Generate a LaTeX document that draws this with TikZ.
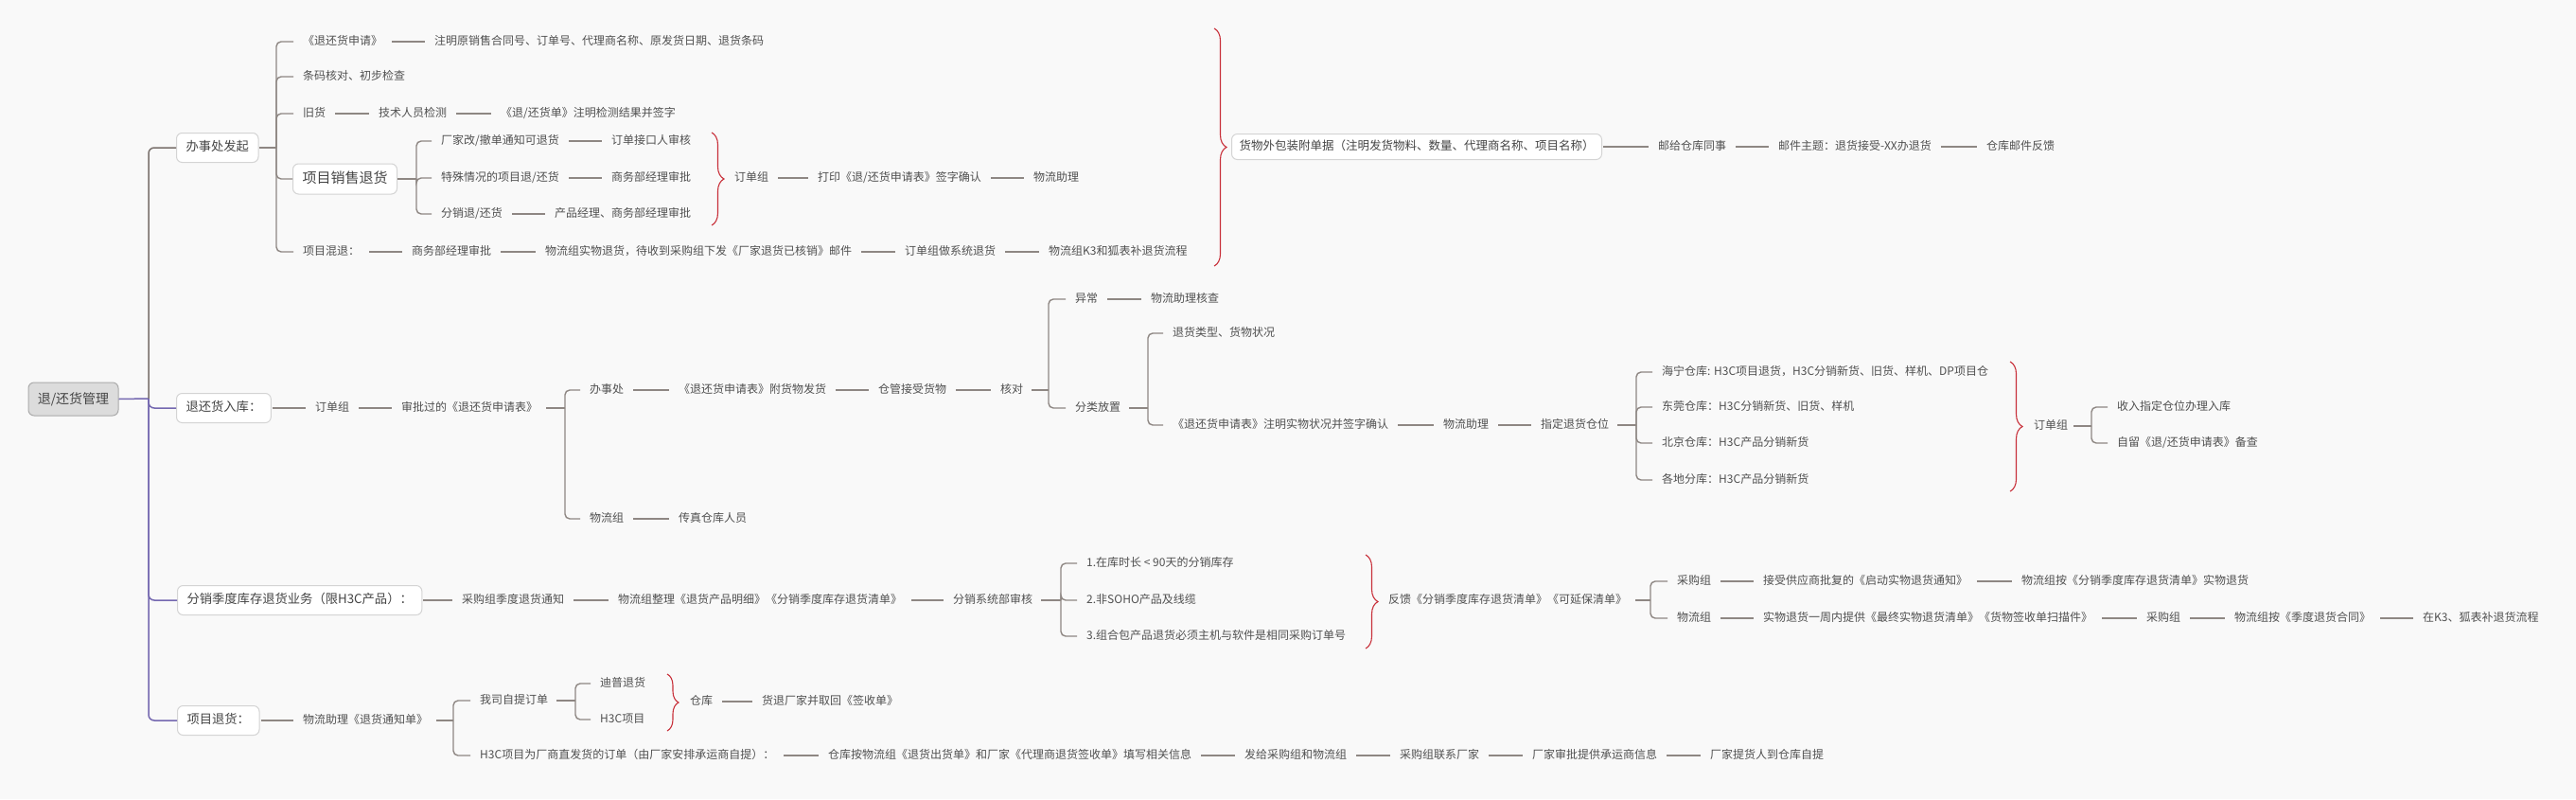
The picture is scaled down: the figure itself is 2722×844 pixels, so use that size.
\documentclass[tikz,border=0pt]{standalone}
\usepackage{fontspec}
\setmainfont{Noto Sans CJK SC}
\usetikzlibrary{decorations.pathreplacing}
\definecolor{bgc}{HTML}{F9F9F9}
\definecolor{txtc}{HTML}{505050}
\definecolor{lnc}{HTML}{8E8783}
\definecolor{trp}{HTML}{7468B0}
\definecolor{trg}{HTML}{7A716D}
\definecolor{redc}{HTML}{C8303A}
\definecolor{boxb}{HTML}{D4D4D4}
\definecolor{rootf}{HTML}{DCDCDC}
\definecolor{rootb}{HTML}{ABABAB}
\begin{document}
\begin{tikzpicture}[x=1pt,y=-1pt,
 tx/.style={anchor=west, inner sep=0pt, text=txtc, font=\fontsize{12}{14}\selectfont, text height=9.5pt, text depth=2.5pt},
 lv/.style={anchor=west, draw=boxb, fill=white, rounded corners=6pt, line width=1pt, minimum height=31pt, inner xsep=10pt, inner ysep=0pt, text=txtc!85!black, font=\fontsize{13.3}{15}\selectfont, text height=10.5pt, text depth=3pt},
 rootbox/.style={draw=rootb, fill=rootf, rounded corners=6pt, line width=1pt, minimum width=95pt, minimum height=35pt, inner sep=0pt, text=txtc!85!black, font=\fontsize{14}{16}\selectfont},
 conn/.style={draw=lnc, line width=1.4pt, shorten <=10pt, shorten >=10pt},
 bconn/.style={draw=lnc, line width=1.4pt, shorten <=1pt, shorten >=10pt},
 stem/.style={draw=lnc, line width=1.4pt},
 tstem/.style={draw=lnc, line width=1.4pt, shorten <=9pt},
 tree/.style={draw=lnc, line width=1.4pt, rounded corners=5pt},
 brc/.style={draw=redc, line width=1.1pt, decorate, decoration={brace, amplitude=13pt}},
]
\fill[bgc] (0,0) rectangle (2722,844);
\useasboundingbox (0,0) rectangle (2722,844);

% root and level 1
\node[rootbox] (root) at (77.5,421.5) {退/还货管理};
\node[lv] (A) at (186,156) {办事处发起};
\node[lv] (B) at (186,431) {退还货入库：};
\node[lv] (C) at (187,634) {分销季度库存退货业务（限H3C产品）：};
\node[lv] (D) at (187,761) {项目退货：};
\coordinate (T0) at (157,421);
\draw[line width=1.5pt, trp] (root.east) -- (T0);
\draw[line width=1.5pt, trg, rounded corners=6pt] (T0) |- (A.west);
\draw[line width=1.5pt, trp, rounded corners=6pt] (T0) |- (B.west);
\draw[line width=1.5pt, trp, rounded corners=6pt] (T0) |- (C.west);
\draw[line width=1.5pt, trp, rounded corners=6pt] (T0) |- (D.west);

% ---- A branch
\node[tx] (a1) at (320,44) {《退还货申请》};
\node[tx] (a1b) at (459,44) {注明原销售合同号、订单号、代理商名称、原发货日期、退货条码};
\node[tx] (a2) at (320,81) {条码核对、初步检查};
\node[tx] (a3) at (320,120) {旧货};
\node[tx] (a3b) at (400,120) {技术人员检测};
\node[tx] (a3c) at (529,120) {《退/还货单》注明检测结果并签字};
\node[lv, font=\fontsize{15}{17}\selectfont, minimum height=32pt, text height=11.5pt] (a4) at (309,189) {项目销售退货};
\node[tx] (a5) at (320,266) {项目混退：};
\node[tx] (a5b) at (435,266) {商务部经理审批};
\node[tx] (a5c) at (576,266) {物流组实物退货，待收到采购组下发《厂家退货已核销》邮件};
\node[tx] (a5d) at (956,266) {订单组做系统退货};
\node[tx] (a5e) at (1108,266) {物流组K3和狐表补退货流程};
\coordinate (TA) at (292,156);
\draw[stem] (A.east) -- (TA);
\draw[tree] (TA) |- ([xshift=-10pt]a1.west);
\draw[tree] (TA) |- ([xshift=-10pt]a2.west);
\draw[tree] (TA) |- ([xshift=-10pt]a3.west);
\draw[tree] (TA) |- (a4.west);
\draw[tree] (TA) |- ([xshift=-10pt]a5.west);
\draw[conn] (a1.east) -- (a1b.west);
\draw[conn] (a3.east) -- (a3b.west);
\draw[conn] (a3b.east) -- (a3c.west);
\draw[conn] (a5.east) -- (a5b.west);
\draw[conn] (a5b.east) -- (a5c.west);
\draw[conn] (a5c.east) -- (a5d.west);
\draw[conn] (a5d.east) -- (a5e.west);

\node[tx] (b1) at (466,149) {厂家改/撤单通知可退货};
\node[tx] (b1b) at (646,149) {订单接口人审核};
\node[tx] (b2) at (466,188) {特殊情况的项目退/还货};
\node[tx] (b2b) at (646,188) {商务部经理审批};
\node[tx] (b3) at (466,226) {分销退/还货};
\node[tx] (b3b) at (586,226) {产品经理、商务部经理审批};
\coordinate (TB) at (440,189);
\draw[stem] (a4.east) -- (TB);
\draw[tree] (TB) |- ([xshift=-10pt]b1.west);
\draw[tree] (TB) |- ([xshift=-10pt]b2.west);
\draw[tree] (TB) |- ([xshift=-10pt]b3.west);
\draw[conn] (b1.east) -- (b1b.west);
\draw[conn] (b2.east) -- (b2b.west);
\draw[conn] (b3.east) -- (b3b.west);
\draw[brc] (752,140) -- (752,238);
\node[tx] (b4) at (776,188) {订单组};
\node[tx] (b5) at (864,188) {打印《退/还货申请表》签字确认};
\node[tx] (b6) at (1092,188) {物流助理};
\draw[conn] (b4.east) -- (b5.west);
\draw[conn] (b5.east) -- (b6.west);

\draw[brc] (1283,30) -- (1283,281);
\node[lv, font=\fontsize{12.5}{14}\selectfont, minimum height=27pt, inner xsep=8pt, text height=10pt] (c1) at (1301,155) {货物外包装附单据（注明发货物料、数量、代理商名称、项目名称）};
\node[tx] (c2) at (1752,155) {邮给仓库同事};
\node[tx] (c3) at (1879,155) {邮件主题：退货接受-XX办退货};
\node[tx] (c4) at (2099,155) {仓库邮件反馈};
\draw[bconn] (c1.east) -- (c2.west);
\draw[conn] (c2.east) -- (c3.west);
\draw[conn] (c3.east) -- (c4.west);

% ---- B branch
\node[tx] (d1) at (333,431) {订单组};
\node[tx] (d2) at (424,431) {审批过的《退还货申请表》};
\draw[bconn] (B.east) -- (d1.west);
\draw[conn] (d1.east) -- (d2.west);
\coordinate (TD) at (597,431);
\draw[tstem] (d2.east) -- (TD);
\node[tx] (d3) at (623,412) {办事处};
\node[tx] (d4) at (717,412) {《退还货申请表》附货物发货};
\node[tx] (d5) at (928,412) {仓管接受货物};
\node[tx] (d6) at (1057,412) {核对};
\node[tx] (d7) at (623,548) {物流组};
\node[tx] (d8) at (717,548) {传真仓库人员};
\draw[tree] (TD) |- ([xshift=-10pt]d3.west);
\draw[tree] (TD) |- ([xshift=-10pt]d7.west);
\draw[conn] (d3.east) -- (d4.west);
\draw[conn] (d4.east) -- (d5.west);
\draw[conn] (d5.east) -- (d6.west);
\draw[conn] (d7.east) -- (d8.west);
\coordinate (TE) at (1108,412);
\draw[tstem] (d6.east) -- (TE);
\node[tx] (e1) at (1136,316) {异常};
\node[tx] (e2) at (1216,316) {物流助理核查};
\node[tx] (e3) at (1136,431) {分类放置};
\draw[tree] (TE) |- ([xshift=-10pt]e1.west);
\draw[tree] (TE) |- ([xshift=-10pt]e3.west);
\draw[conn] (e1.east) -- (e2.west);
\coordinate (TF) at (1213,431);
\draw[tstem] (e3.east) -- (TF);
\node[tx] (f1) at (1239,352) {退货类型、货物状况};
\node[tx] (f2) at (1239,449) {《退还货申请表》注明实物状况并签字确认};
\node[tx] (f3) at (1525,449) {物流助理};
\node[tx] (f4) at (1628,449) {指定退货仓位};
\draw[tree] (TF) |- ([xshift=-10pt]f1.west);
\draw[tree] (TF) |- ([xshift=-10pt]f2.west);
\draw[conn] (f2.east) -- (f3.west);
\draw[conn] (f3.east) -- (f4.west);
\coordinate (TG) at (1729,449);
\draw[tstem] (f4.east) -- (TG);
\node[tx] (g1) at (1756,393) {海宁仓库: H3C项目退货，H3C分销新货、旧货、样机、DP项目仓};
\node[tx] (g2) at (1756,430) {东莞仓库：H3C分销新货、旧货、样机};
\node[tx] (g3) at (1756,468) {北京仓库：H3C产品分销新货};
\node[tx] (g4) at (1756,507) {各地分库：H3C产品分销新货};
\draw[tree] (TG) |- ([xshift=-10pt]g1.west);
\draw[tree] (TG) |- ([xshift=-10pt]g2.west);
\draw[tree] (TG) |- ([xshift=-10pt]g3.west);
\draw[tree] (TG) |- ([xshift=-10pt]g4.west);
\draw[brc] (2124,382) -- (2124,519);
\node[tx] (g5) at (2149,450) {订单组};
\coordinate (TH) at (2210,450);
\draw[tstem, shorten <=6pt] (g5.east) -- (TH);
\node[tx] (h1) at (2237,430) {收入指定仓位办理入库};
\node[tx] (h2) at (2237,468) {自留《退/还货申请表》备查};
\draw[tree] (TH) |- ([xshift=-10pt]h1.west);
\draw[tree] (TH) |- ([xshift=-10pt]h2.west);

% ---- C branch
\node[tx] (k1) at (488,634) {采购组季度退货通知};
\node[tx] (k2) at (653,634) {物流组整理《退货产品明细》《分销季度库存退货清单》};
\node[tx] (k3) at (1007,634) {分销系统部审核};
\draw[bconn] (C.east) -- (k1.west);
\draw[conn] (k1.east) -- (k2.west);
\draw[conn] (k2.east) -- (k3.west);
\coordinate (TK) at (1121,634);
\draw[tstem] (k3.east) -- (TK);
\node[tx] (k4) at (1148,595) {1.在库时长 < 90天的分销库存};
\node[tx] (k5) at (1148,634) {2.非SOHO产品及线缆};
\node[tx] (k6) at (1148,672) {3.组合包产品退货必须主机与软件是相同采购订单号};
\draw[tree] (TK) |- ([xshift=-10pt]k4.west);
\draw[tree] (TK) |- ([xshift=-10pt]k5.west);
\draw[tree] (TK) |- ([xshift=-10pt]k6.west);
\draw[brc] (1443,586) -- (1443,685);
\node[tx] (k7) at (1467,634) {反馈《分销季度库存退货清单》《可延保清单》};
\coordinate (TL) at (1744,634);
\draw[tstem] (k7.east) -- (TL);
\node[tx] (m1) at (1772,614) {采购组};
\node[tx] (m2) at (1863,614) {接受供应商批复的《启动实物退货通知》};
\node[tx] (m3) at (2136,614) {物流组按《分销季度库存退货清单》实物退货};
\node[tx] (n1) at (1772,653) {物流组};
\node[tx] (n2) at (1863,653) {实物退货一周内提供《最终实物退货清单》《货物签收单扫描件》};
\node[tx] (n3) at (2268,653) {采购组};
\node[tx] (n4) at (2361,653) {物流组按《季度退货合同》};
\node[tx] (n5) at (2560,653) {在K3、狐表补退货流程};
\draw[tree] (TL) |- ([xshift=-10pt]m1.west);
\draw[tree] (TL) |- ([xshift=-10pt]n1.west);
\draw[conn] (m1.east) -- (m2.west);
\draw[conn] (m2.east) -- (m3.west);
\draw[conn] (n1.east) -- (n2.west);
\draw[conn] (n2.east) -- (n3.west);
\draw[conn] (n3.east) -- (n4.west);
\draw[conn] (n4.east) -- (n5.west);

% ---- D branch
\node[tx] (p1) at (320,761) {物流助理《退货通知单》};
\draw[bconn] (D.east) -- (p1.west);
\coordinate (TP) at (479,761);
\draw[tstem] (p1.east) -- (TP);
\node[tx] (p2) at (507,740) {我司自提订单};
\node[tx] (p3) at (507,798) {H3C项目为厂商直发货的订单（由厂家安排承运商自提）：};
\draw[tree] (TP) |- ([xshift=-10pt]p2.west);
\draw[tree] (TP) |- ([xshift=-10pt]p3.west);
\coordinate (TQ) at (608,740);
\draw[tstem] (p2.east) -- (TQ);
\node[tx] (q1) at (634,722) {迪普退货};
\node[tx] (q2) at (634,760) {H3C项目};
\draw[tree] (TQ) |- ([xshift=-10pt]q1.west);
\draw[tree] (TQ) |- ([xshift=-10pt]q2.west);
\draw[brc, decoration={brace, amplitude=12pt}] (705,712) -- (705,772);
\node[tx] (q3) at (729,741) {仓库};
\node[tx] (q4) at (805,741) {货退厂家并取回《签收单》};
\draw[conn] (q3.east) -- (q4.west);
\node[tx] (r1) at (875,798) {仓库按物流组《退货出货单》和厂家《代理商退货签收单》填写相关信息};
\node[tx] (r2) at (1315,798) {发给采购组和物流组};
\node[tx] (r3) at (1479,798) {采购组联系厂家};
\node[tx] (r4) at (1619,798) {厂家审批提供承运商信息};
\node[tx] (r5) at (1807,798) {厂家提货人到仓库自提};
\draw[conn] (p3.east) -- (r1.west);
\draw[conn] (r1.east) -- (r2.west);
\draw[conn] (r2.east) -- (r3.west);
\draw[conn] (r3.east) -- (r4.west);
\draw[conn] (r4.east) -- (r5.west);
\end{tikzpicture}
\end{document}
